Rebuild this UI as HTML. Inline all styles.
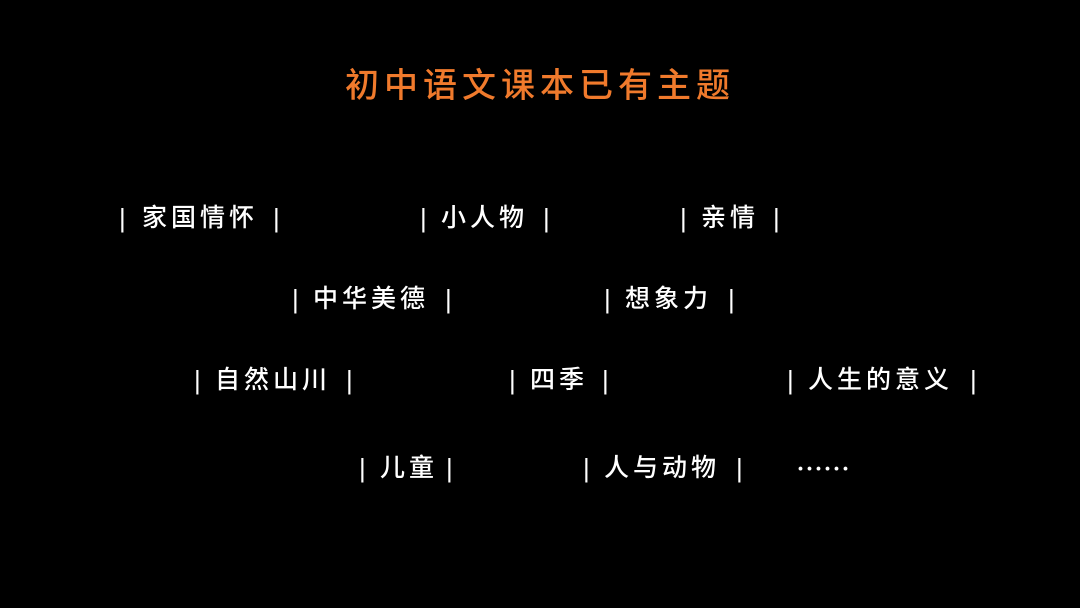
<!DOCTYPE html>
<html><head><meta charset="utf-8"><style>
html,body{margin:0;padding:0;background:#000;}
body{width:1080px;height:608px;position:relative;overflow:hidden;font-family:"Liberation Sans","Noto Sans CJK SC",sans-serif;}
.t{position:absolute;left:0;width:1080px;text-align:center;top:64px;color:#f07a2c;font-size:34px;letter-spacing:5px;line-height:44px;font-weight:500;}
.w{position:absolute;color:#fff;font-size:25px;letter-spacing:4px;line-height:34px;white-space:nowrap;font-weight:500;}
.b{position:absolute;color:#fff;font-size:26px;line-height:34px;}
</style></head><body>
<div class="t">初中语文课本已有主题</div>

<div class="b" style="left:119px;top:201px">|</div><div class="w" style="left:142px;top:201px">家国情怀</div><div class="b" style="left:273px;top:201px">|</div>
<div class="b" style="left:420px;top:201px">|</div><div class="w" style="left:441px;top:201px">小人物</div><div class="b" style="left:543px;top:201px">|</div>
<div class="b" style="left:680px;top:201px">|</div><div class="w" style="left:701px;top:201px">亲情</div><div class="b" style="left:773px;top:201px">|</div>

<div class="b" style="left:292px;top:282px">|</div><div class="w" style="left:313px;top:282px">中华美德</div><div class="b" style="left:445px;top:282px">|</div>
<div class="b" style="left:604px;top:282px">|</div><div class="w" style="left:625px;top:282px">想象力</div><div class="b" style="left:728px;top:282px">|</div>

<div class="b" style="left:194px;top:363px">|</div><div class="w" style="left:215px;top:363px">自然山川</div><div class="b" style="left:346px;top:363px">|</div>
<div class="b" style="left:509px;top:363px">|</div><div class="w" style="left:530px;top:363px">四季</div><div class="b" style="left:602px;top:363px">|</div>
<div class="b" style="left:787px;top:363px">|</div><div class="w" style="left:808px;top:363px">人生的意义</div><div class="b" style="left:970px;top:363px">|</div>

<div class="b" style="left:359px;top:451px">|</div><div class="w" style="left:380px;top:451px">儿童</div><div class="b" style="left:446px;top:451px">|</div>
<div class="b" style="left:583px;top:451px">|</div><div class="w" style="left:604px;top:451px">人与动物</div><div class="b" style="left:736px;top:451px">|</div>
<div class="w" style="left:796px;top:451px;letter-spacing:0;font-family:'Noto Sans CJK SC',sans-serif;font-size:27px">……</div>
</body></html>
